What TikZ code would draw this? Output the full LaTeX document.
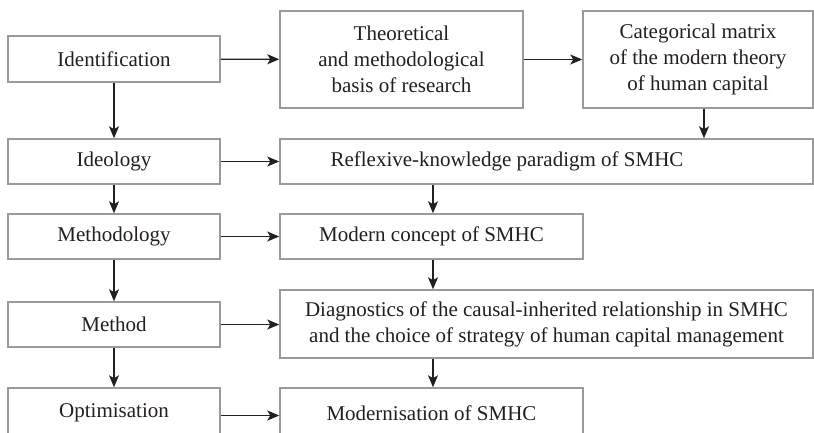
\documentclass[tikz,border=0pt]{standalone}
\usepackage{fontspec}
\setmainfont{Liberation Serif}
\usepackage{tikz}
\usetikzlibrary{arrows.meta,positioning,calc}
\definecolor{boxline}{HTML}{9A9A9A}
\definecolor{ink}{HTML}{231F20}

\begin{document}
\begin{tikzpicture}[x=1pt,y=-1pt,
    box/.style={draw=boxline,line width=1.5pt,fill=white,text=ink,align=center,
      inner sep=0pt,font=\fontsize{21}{26}\selectfont},
    arr/.style={draw=ink,line width=1.2pt,-{Stealth[length=12pt,width=10pt,inset=3pt]}}]

    \useasboundingbox (0,0) rectangle (814,432);
    \clip (0,0) rectangle (814,432);

    % left column
    \node [box,minimum width=212pt,minimum height=46pt] (ident) at (114,59) {Identification};
    \node [box,minimum width=212pt,minimum height=45pt] (ideol) at (114,161.5) {Ideology};
    \node [box,minimum width=212pt,minimum height=45pt] (methgy) at (114,236.5) {Methodology};
    \node [box,minimum width=212pt,minimum height=45pt] (method) at (114,324.5) {Method};
    \node [box,minimum width=212pt,minimum height=50pt] (optim) at (114,413) {Optimisation};

    % right part
    \node [box,minimum width=243pt,minimum height=97pt] (theory) at (401.5,59.5) {Theoretical\\and methodological\\basis of research};
    \node [box,minimum width=230pt,minimum height=97pt] (matrix) at (698,59.5) {Categorical matrix\\of the modern theory\\of human capital};
    \node [box,minimum width=533pt,minimum height=45pt,
      label={[xshift=-39.5pt,text=ink,font=\fontsize{21}{26}\selectfont]center:Reflexive-knowledge paradigm of SMHC}] (reflex) at (546.5,161.5) {};
    \node [box,minimum width=303pt,minimum height=45pt] (concept) at (431.5,236.5) {Modern concept of SMHC};
    \node [box,minimum width=533pt,minimum height=68pt] (diagn) at (546.5,324) {Diagnostics of the causal-inherited relationship in SMHC\\and the choice of strategy of human capital management};
    \node [box,minimum width=303pt,minimum height=50pt] (modern) at (431.5,413) {Modernisation of SMHC};

    % arrows
    \draw [arr] (ident) -- (ideol);
    \draw [arr] (ideol) -- (methgy);
    \draw [arr] (methgy) -- (method);
    \draw [arr] (method) -- (optim);
    \draw [arr] (ident) -- (theory);
    \draw [arr] (theory) -- (matrix);
    \draw [arr] ([xshift=6pt]matrix.south) -- ([xshift=6pt]matrix.south |- reflex.north);
    \draw [arr] (ideol.east) -- (ideol.east -| reflex.west);
    \draw [arr] (methgy.east) -- (methgy.east -| concept.west);
    \draw [arr] (method.east) -- (method.east -| diagn.west);
    \draw [arr] ([yshift=-2.5pt]optim.east) -- ([yshift=-2.5pt]optim.east -| modern.west);
    \draw [arr] ([xshift=1.5pt]concept.north |- reflex.south) -- ([xshift=1.5pt]concept.north);
    \draw [arr] ([xshift=1.5pt]concept.south) -- ([xshift=1.5pt]concept.south |- diagn.north);
    \draw [arr] ([xshift=1.5pt]modern.north |- diagn.south) -- ([xshift=1.5pt]modern.north);
  \end{tikzpicture}
\end{document}
